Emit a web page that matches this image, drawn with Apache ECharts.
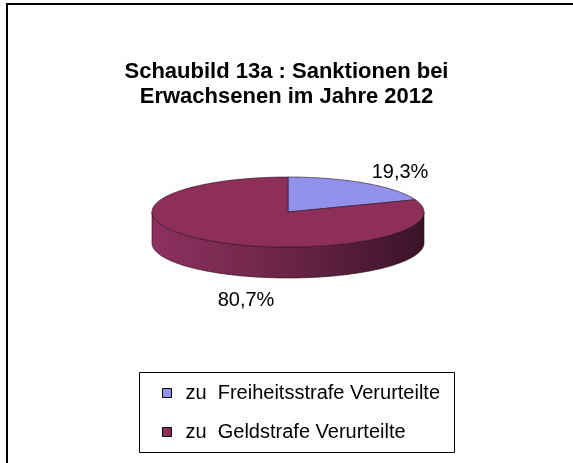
<!DOCTYPE html>
<html><head><meta charset="utf-8">
<script src="https://cdn.jsdelivr.net/npm/echarts@6/dist/echarts.min.js"></script>
<style>html,body{margin:0;padding:0;background:#fff}#c{width:573px;height:463px}</style>
</head><body><div id="c"></div>
<script>
const categories = ['zu  Freiheitsstrafe Verurteilte', 'zu  Geldstrafe Verurteilte'];
const values = [19.3, 80.7];
const titleText = 'Schaubild 13a : Sanktionen bei\nErwachsenen im Jahre 2012';

const topColors = ['#9191EC', '#8E2F59'];
const sideColors = [['#8080D8', '#5a5ab0', '#35357a'], ['#8E3160', '#6A2446', '#3A1327']];
const C = {cx: 288, cy: 212, rx: 136, ry: 35, depth: 31};
const labelPos = [[400, 172], [246, 300]];
const FONT = '"Liberation Sans", Arial, sans-serif';

const total = values.reduce((a, b) => a + b, 0);
function pt(a, dy) { return [C.cx + C.rx * Math.sin(a), C.cy - C.ry * Math.cos(a) + (dy || 0)]; }
function arcPts(a1, a2, dy) {
  const n = Math.max(2, Math.ceil((a2 - a1) / 0.02));
  const p = [];
  for (let i = 0; i <= n; i++) p.push(pt(a1 + (a2 - a1) * i / n, dy));
  return p;
}
function fmt(v) { return v.toFixed(1).replace('.', ',') + '%'; }

function makeRender(idx) {
  return function (params, api) {
    let start = 0;
    for (let i = 0; i < idx; i++) start += values[i];
    const v = api.value(0);
    const a1 = start / total * 2 * Math.PI, a2 = (start + v) / total * 2 * Math.PI;
    const children = [];
    const s1 = Math.max(a1, Math.PI / 2), s2 = Math.min(a2, 3 * Math.PI / 2);
    if (s2 > s1) {
      const top = arcPts(s1, s2, 0), bot = arcPts(s1, s2, C.depth).reverse();
      const sc = sideColors[idx];
      children.push({
        type: 'polygon', z2: 1,
        shape: {points: top.concat(bot)},
        style: {
          fill: {type: 'linear', x: C.cx + C.rx, y: 0, x2: C.cx - C.rx, y2: 0, global: true,
            colorStops: [{offset: 0, color: sc[2]}, {offset: 0.5, color: sc[1]}, {offset: 1, color: sc[0]}]},
          stroke: '#1e0810', lineWidth: 0.6
        }
      });
    }
    const pts = [[C.cx, C.cy]].concat(arcPts(a1, a2, 0));
    children.push({
      type: 'polygon', z2: 2,
      shape: {points: pts},
      style: {fill: topColors[idx], stroke: '#2a1020', lineWidth: 0.6}
    });
    children.push({
      type: 'text', z2: 3, x: labelPos[idx][0], y: labelPos[idx][1],
      style: {text: fmt(v), fill: '#000', font: '20px ' + FONT, align: 'center', verticalAlign: 'middle'}
    });
    return {type: 'group', children: children};
  };
}

const chart = echarts.init(document.getElementById('c'), null, {renderer: 'canvas'});
chart.setOption({
  animation: false,
  backgroundColor: '#fff',
  color: topColors,
  title: {
    text: titleText, left: 'center', top: 59, padding: 0,
    textStyle: {fontFamily: FONT, fontSize: 22, fontWeight: 'bold', color: '#000', lineHeight: 25}
  },
  legend: {
    orient: 'vertical', left: 162, top: 383, padding: 0,
    itemWidth: 9, itemHeight: 9, itemGap: 19, icon: 'rect',
    itemStyle: {borderColor: '#000', borderWidth: 1},
    textStyle: {fontFamily: FONT, fontSize: 20, color: '#000', padding: [0, 0, 0, 9]},
    data: categories
  },
  graphic: [
    {type: 'rect', z: -10, shape: {x: 7, y: 4, width: 700, height: 700}, style: {fill: 'none', stroke: '#000', lineWidth: 2}},
    {type: 'rect', z: -5, shape: {x: 139.5, y: 372.5, width: 315, height: 80}, style: {fill: '#fff', stroke: '#000', lineWidth: 1}}
  ],
  series: categories.map((name, idx) => ({
    type: 'custom', name: name, coordinateSystem: 'none',
    itemStyle: {color: topColors[idx]},
    renderItem: makeRender(idx),
    data: [[values[idx]]]
  }))
});
</script></body></html>
